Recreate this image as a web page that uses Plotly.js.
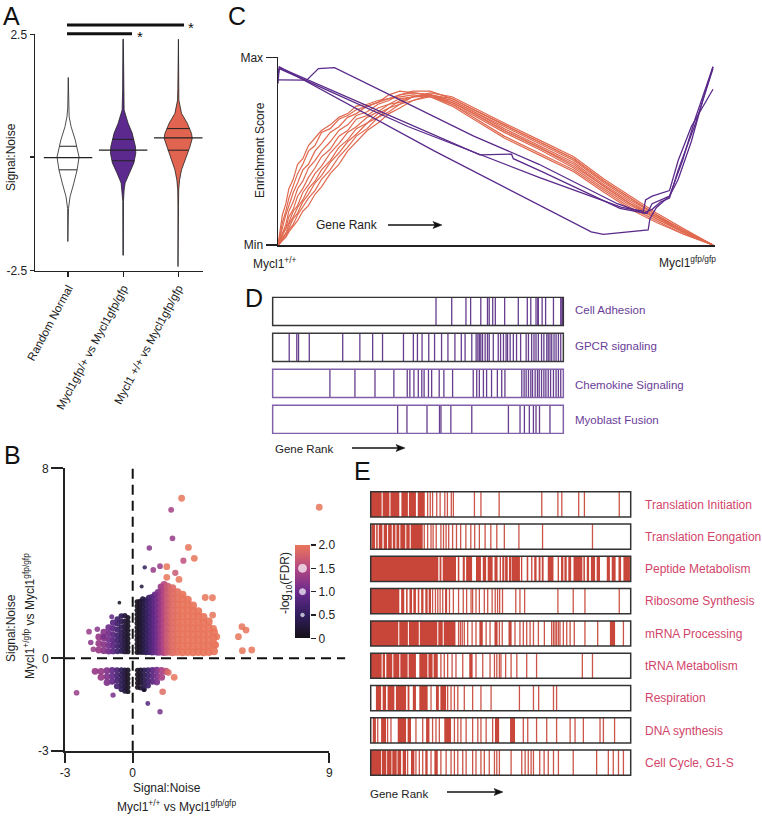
<!DOCTYPE html>
<html><head><meta charset="utf-8">
<script src="https://cdn.plot.ly/plotly-3.0.1.min.js"></script>
<style>html,body{margin:0;padding:0;background:#fff}#chart{width:762px;height:816px}</style>
</head><body><div id="chart"></div>
<script>
// ================= DATA =================
// ---- Panel A: violin profiles (Signal:Noise level, half width in category units) ----
const aCategories = ['Random Normal', 'Mycl1gfp/+ vs Mycl1gfp/gfp', 'Mycl1 +/+ vs Mycl1gfp/gfp'];
const rnLevels = [1.62, 1.0, 0.82, 0.62, 0.35, 0.0, -0.26, -0.53, -0.81, -1.05, -1.72];
const rnHalfW  = [0.004, 0.006, 0.02, 0.055, 0.13, 0.2, 0.165, 0.105, 0.036, 0.008, 0.004];
const hetLevels = [2.4, 1.36, 0.96, 0.69, 0.49, 0.21, 0.08, -0.12, -0.33, -0.53, -0.67, -0.9, -2.0];
const hetHalfW  = [0.004, 0.009, 0.018, 0.09, 0.164, 0.224, 0.23, 0.195, 0.11, 0.036, 0.018, 0.006, 0.004];
const wtLevels = [2.4, 1.4, 1.16, 0.89, 0.69, 0.48, 0.38, 0.21, 0.01, -0.26, -0.47, -0.67, -1.0, -2.23];
const wtHalfW  = [0.004, 0.007, 0.012, 0.06, 0.164, 0.242, 0.255, 0.213, 0.145, 0.06, 0.024, 0.009, 0.005, 0.004];
const aMedians = [-0.01, 0.14, 0.39];
const aQ1 = [-0.26, -0.075, 0.14];
const aQ3 = [0.22, 0.36, 0.58];

// ---- Panel B: scatter columns [x, -log10 FDR, [y values]] ----
const bURCols = [
 [0.2, 0.05, [0.25,0.43,0.6,0.78,0.95,1.13,1.3,1.48,1.66,1.84,2.02,2.2,2.38]],
 [0.33, 0.12, [0.26,0.44,0.61,0.79,0.96,1.14,1.32,1.49,1.67,1.85,2.03,2.21,2.4]],
 [0.46, 0.25, [0.25,0.43,0.6,0.78,0.96,1.13,1.31,1.49,1.66,1.84,2.02,2.2,2.38,2.5]],
 [0.6, 0.42, [0.25,0.45,0.65,0.85,1.05,1.25,1.45,1.65,1.85,2.05,2.25,2.45]],
 [0.74, 0.6, [0.26,0.47,0.68,0.89,1.1,1.31,1.52,1.73,1.94,2.15,2.36,2.55]],
 [0.88, 0.78, [0.25,0.46,0.67,0.88,1.09,1.3,1.51,1.72,1.93,2.14,2.35,2.58]],
 [1.02, 0.95, [0.26,0.48,0.7,0.92,1.14,1.36,1.58,1.8,2.02,2.24,2.46,2.68]],
 [1.16, 1.12, [0.25,0.48,0.71,0.94,1.17,1.4,1.63,1.86,2.09,2.32,2.55,2.78]],
 [1.3, 1.3, [0.26,0.49,0.72,0.95,1.18,1.41,1.64,1.87,2.1,2.33,2.56,2.8,3.0]],
 [1.44, 1.5, [0.25,0.49,0.73,0.97,1.21,1.45,1.69,1.93,2.17,2.41,2.65,2.9,3.1]],
 [1.6, 1.72, [0.27,0.52,0.77,1.02,1.27,1.52,1.77,2.02,2.27,2.52,2.77,3.02]],
 [1.82, 1.88, [0.26,0.51,0.76,1.01,1.26,1.51,1.76,2.01,2.26,2.51,2.76,2.95]],
 [2.05, 1.96, [0.27,0.52,0.77,1.02,1.27,1.52,1.77,2.02,2.27,2.52,2.78]],
 [2.28, 2.0, [0.26,0.51,0.76,1.01,1.26,1.51,1.76,2.01,2.26,2.5,2.68]],
 [2.52, 2.0, [0.27,0.52,0.77,1.02,1.27,1.52,1.77,2.02,2.27,2.47]],
 [2.76, 2.0, [0.26,0.51,0.76,1.01,1.26,1.51,1.76,2.0,2.22]],
 [3.0, 2.0, [0.27,0.52,0.77,1.02,1.27,1.52,1.78,1.98]],
 [3.24, 2.0, [0.26,0.51,0.76,1.01,1.26,1.5,1.74]],
 [3.48, 2.0, [0.27,0.52,0.77,1.02,1.3,1.55]],
 [3.72, 2.0, [0.3,0.58,0.88,1.1]]
];
const bULCols = [
 [-0.22, 0.08, [0.28,0.46,0.64,0.82,1.0,1.18,1.36,1.54,1.72]],
 [-0.36, 0.2, [0.28,0.46,0.64,0.82,1.0,1.18,1.36,1.56,1.8]],
 [-0.52, 0.4, [0.3,0.5,0.7,0.9,1.1,1.32,1.55,1.78]],
 [-0.7, 0.62, [0.3,0.52,0.74,0.96,1.2,1.45,1.65]],
 [-0.9, 0.85, [0.3,0.53,0.76,1.0,1.25,1.5]],
 [-1.1, 1.05, [0.3,0.55,0.8,1.05,1.3]],
 [-1.32, 1.2, [0.32,0.58,0.85,1.1]],
 [-1.55, 1.3, [0.35,0.62,0.9]]
];
const bLLCols = [
 [-0.22, 0.08, [-0.5,-0.68,-0.86,-1.04,-1.22,-1.4]],
 [-0.36, 0.2, [-0.5,-0.68,-0.86,-1.04,-1.22,-1.38]],
 [-0.52, 0.42, [-0.5,-0.7,-0.9,-1.1,-1.3]],
 [-0.72, 0.7, [-0.5,-0.72,-0.94,-1.18]],
 [-0.94, 0.95, [-0.5,-0.74,-0.98]],
 [-1.18, 1.15, [-0.52,-0.78,-1.02]],
 [-1.45, 1.3, [-0.55,-0.8]],
 [-1.72, 1.3, [-0.55]]
];
const bLRCols = [
 [0.22, 0.05, [-0.5,-0.68,-0.86,-1.04,-1.22]],
 [0.36, 0.15, [-0.5,-0.68,-0.86,-1.04,-1.24]],
 [0.52, 0.35, [-0.5,-0.7,-0.9,-1.1,-1.3]],
 [0.7, 0.6, [-0.5,-0.72,-0.94,-1.15]],
 [0.9, 0.85, [-0.5,-0.74,-0.98]],
 [1.1, 1.1, [-0.5,-0.75,-1.0]],
 [1.32, 1.4, [-0.52,-0.8]],
 [1.52, 1.6, [-0.55]]
];
// isolated genes [x, y, -log10 FDR]
const bOutliers = [
 [2.24,6.74,2.0],[1.76,6.25,1.4],[1.82,5.05,1.3],[2.55,4.67,2.0],[0.76,4.64,1.2],[2.32,4.11,1.6],
 [2.82,4.21,2.0],[0.55,3.83,0.5],[0.94,3.72,1.3],[1.25,3.88,1.3],[1.56,3.86,2.0],[1.95,3.6,1.7],
 [2.12,3.32,2.0],[1.56,3.41,2.0],[0.41,3.02,0.3],[3.32,2.56,2.0],[3.65,2.55,2.0],[5.0,1.33,2.0],
 [5.19,1.19,2.0],[4.84,0.91,2.0],[5.02,0.32,2.0],[5.45,0.35,2.0],[3.66,1.82,2.0],[3.7,1.26,2.0],
 [3.85,0.91,2.0],[3.8,0.56,2.0],[8.54,6.36,2.0],
 [-2.0,1.12,1.3],[-1.62,1.22,1.2],[-1.92,0.67,1.2],[-1.8,0.38,1.3],[-1.34,0.91,1.1],[-0.96,1.75,0.9],[-0.61,2.34,0.1],
 [-2.57,-1.45,1.3],[-0.9,-1.55,1.1],
 [1.63,-0.6,1.9],[1.9,-0.8,2.0],[1.37,-1.41,1.9],[0.69,-1.9,0.8],[1.25,-2.25,1.1],[0.52,-1.34,0.1]
];
const cbLevels = [0, 0.25, 0.5, 0.75, 1, 1.25, 1.5, 1.75, 2];
const cbDots = [1.5, 1.0, 0.5];

// ---- Panel C: running enrichment score (gene rank fraction, 0=Min..1=Max) ----
const cRank = [0,.005,.01,.018,.025,.035,.045,.057,.07,.085,.1,.12,.14,.16,.18,.205,.23,.255,.28,.31,.35,.4,.45,.52,.6,.68,.75,.81,.87,.93,1];
const cUp1 = [0,.08,.16,.22,.3,.35,.43,.46,.53,.57,.61,.64,.68,.7,.74,.75,.77,.78,.79,.8,.79,.75,.69,.6,.51,.41,.3,.21,.14,.07,0];
const cUp2 = [0,.05,.12,.18,.25,.31,.38,.43,.5,.53,.6,.62,.67,.69,.72,.74,.76,.78,.8,.81,.8,.76,.7,.61,.52,.42,.31,.22,.15,.07,0];
const cUp3 = [0,.04,.09,.16,.21,.28,.33,.4,.43,.5,.54,.6,.63,.68,.7,.74,.76,.8,.82,.81,.8,.77,.71,.62,.53,.44,.32,.23,.15,.08,0];
const cUp4 = [0,.03,.07,.11,.18,.23,.3,.34,.41,.45,.5,.55,.61,.64,.69,.71,.75,.77,.8,.82,.82,.78,.72,.64,.55,.46,.34,.25,.16,.08,0];
const cUp5 = [0,.02,.06,.09,.15,.19,.26,.3,.36,.41,.47,.51,.58,.61,.67,.69,.73,.75,.78,.79,.8,.75,.68,.58,.49,.4,.29,.2,.13,.06,0];
const cUp6 = [0,.02,.05,.09,.12,.18,.21,.28,.32,.38,.42,.49,.54,.6,.63,.68,.71,.75,.76,.79,.79,.74,.67,.57,.48,.39,.28,.19,.12,.06,0];
const cUp7 = [0,.015,.04,.06,.11,.15,.2,.24,.3,.34,.4,.45,.52,.56,.62,.65,.7,.73,.77,.79,.8,.77,.71,.63,.54,.45,.33,.24,.16,.08,0];
const cUp8 = [0,.01,.03,.06,.09,.14,.17,.23,.27,.33,.37,.44,.49,.55,.59,.65,.68,.73,.75,.79,.81,.79,.73,.65,.56,.47,.35,.26,.17,.09,0];
const cUp9 = [0,.01,.03,.05,.08,.11,.16,.2,.25,.29,.35,.4,.47,.52,.58,.62,.68,.71,.75,.77,.8,.78,.72,.64,.55,.46,.34,.25,.16,.08,0];
const cUp10 = [0,.01,.02,.04,.07,.1,.13,.18,.21,.27,.31,.38,.43,.5,.55,.61,.65,.7,.73,.77,.79,.76,.7,.61,.52,.43,.31,.22,.14,.07,0];
const cDn1X = [0,0.003,0.36,0.72,0.748,0.851,0.855,0.87,0.9,0.93,0.96,1.0];
const cDn1Y = [0.86,0.95,0.5,0.07,0.057,0.08,0.14,0.2,0.26,0.45,0.68,0.95];
const cDn2X = [0,0.004,0.464,0.537,0.541,0.6,0.608,0.786,0.848,0.86,0.9,0.92,0.95,0.98,1.0];
const cDn2Y = [0.92,0.945,0.48,0.484,0.46,0.4,0.39,0.195,0.168,0.22,0.26,0.35,0.55,0.8,0.95];
const cDn3X = [0,0.066,0.093,0.13,0.45,0.6,0.78,0.84,0.86,0.88,0.9,0.92,0.96,1.0];
const cDn3Y = [0.88,0.878,0.94,0.945,0.58,0.43,0.22,0.17,0.19,0.23,0.25,0.4,0.65,0.94];
const cDn4X = [0,0.003,0.3,0.6,0.79,0.84,0.845,0.86,0.9,0.92,0.95,1.0];
const cDn4Y = [0.9,0.94,0.63,0.36,0.2,0.18,0.24,0.26,0.29,0.45,0.63,0.83];

// ---- Panel D: hit positions (gene rank fraction) ----
const dSets = ['Cell Adhesion','GPCR signaling','Chemokine Signaling','Myoblast Fusion'];
const dCellAdhesion = [0.562,0.616,0.665,0.681,0.716,0.739,0.745,0.757,0.766,0.798,0.845,0.876,0.888,0.906,0.912,0.914,0.927,0.939,0.966,0.991,0.995,0.997];
const dGPCR = [0.057,0.083,0.089,0.126,0.241,0.3,0.344,0.378,0.45,0.484,0.498,0.514,0.537,0.557,0.581,0.603,0.627,0.649,0.662,0.685,0.7,0.706,0.711,0.716,0.722,0.731,0.739,0.745,0.759,0.776,0.784,0.794,0.803,0.808,0.817,0.828,0.839,0.853,0.872,0.88,0.891,0.899,0.906,0.914,0.925,0.933,0.943,0.948,0.954,0.96,0.968,0.975,0.983,0.991];
const dChemokine = [0.197,0.283,0.352,0.417,0.463,0.472,0.486,0.501,0.513,0.521,0.536,0.547,0.573,0.589,0.619,0.69,0.702,0.711,0.725,0.736,0.753,0.773,0.788,0.799,0.857,0.865,0.872,0.88,0.888,0.894,0.903,0.911,0.917,0.925,0.933,0.94,0.948,0.956,0.966,0.975,0.983,0.991];
const dMyoblast = [0.43,0.462,0.531,0.574,0.579,0.613,0.685,0.811,0.851,0.866,0.883,0.897,0.906,0.918,0.954];

// ---- Panel E: hit positions; dense runs given as [start, end] ----
const eSets = ['Translation Initiation','Translation Eongation','Peptide Metabolism','Ribosome Synthesis','mRNA Processing','tRNA Metabolism','Respiration','DNA synthesis','Cell Cycle, G1-S'];
const eInitBlocks = [[0,0.042],[0.046,0.072],[0.076,0.11],[0.118,0.143],[0.147,0.174],[0.181,0.208]];
const eInitLines = [0.219,0.229,0.238,0.254,0.267,0.285,0.295,0.31,0.318,0.399,0.424,0.494,0.658,0.72,0.735,0.8,0.822,0.956];
const eElongBlocks = [[0.003,0.017],[0.021,0.027],[0.031,0.045],[0.05,0.063],[0.067,0.081],[0.085,0.095],[0.099,0.11],[0.114,0.133],[0.137,0.15],[0.154,0.2]];
const eElongLines = [0.206,0.219,0.232,0.24,0.252,0.27,0.28,0.29,0.3,0.315,0.33,0.346,0.366,0.385,0.4,0.418,0.44,0.462,0.485,0.514,0.57,0.661,0.853];
const ePeptideBlocks = [[0,0.26],[0.265,0.272],[0.277,0.328],[0.335,0.341],[0.354,0.362],[0.367,0.39],[0.405,0.424],[0.431,0.444],[0.45,0.469],[0.476,0.488],[0.496,0.501],[0.506,0.514],[0.517,0.527],[0.532,0.54],[0.542,0.574],[0.578,0.583],[0.6,0.606],[0.617,0.622],[0.629,0.638],[0.646,0.653],[0.658,0.665],[0.681,0.703],[0.719,0.724],[0.732,0.741],[0.745,0.754],[0.76,0.771],[0.78,0.814],[0.818,0.824],[0.831,0.84],[0.847,0.863],[0.869,0.882],[0.908,0.92],[0.927,0.942],[0.953,0.963],[0.972,0.997]];
const ePeptideLines = [];
const eRiboBlocks = [[0,0.11],[0.117,0.129],[0.136,0.142],[0.149,0.159],[0.164,0.174],[0.181,0.187],[0.194,0.203],[0.21,0.219],[0.223,0.232],[0.286,0.294]];
const eRiboLines = [0.238,0.249,0.258,0.267,0.277,0.303,0.318,0.338,0.356,0.369,0.386,0.392,0.405,0.418,0.437,0.45,0.467,0.479,0.488,0.496,0.507,0.558,0.574,0.592,0.72,0.779,0.824,0.956];
const eMrnaBlocks = [[0,0.106],[0.11,0.143],[0.147,0.185],[0.189,0.256],[0.26,0.277],[0.281,0.326],[0.418,0.431],[0.476,0.488],[0.53,0.542],[0.92,0.94]];
const eMrnaLines = [0.338,0.345,0.352,0.36,0.373,0.39,0.405,0.444,0.459,0.495,0.506,0.555,0.574,0.587,0.6,0.613,0.626,0.645,0.668,0.696,0.703,0.709,0.715,0.722,0.728,0.741,0.754,0.767,0.783,0.824,0.873,0.972];
const eTrnaBlocks = [[0,0.042],[0.046,0.055],[0.06,0.083],[0.087,0.11],[0.114,0.142],[0.146,0.174],[0.187,0.218],[0.222,0.238],[0.242,0.258],[0.379,0.392]];
const eTrnaLines = [0.27,0.283,0.296,0.313,0.328,0.354,0.405,0.431,0.459,0.476,0.485,0.495,0.501,0.519,0.54,0.562,0.6,0.638,0.814,0.853];
const eRespBlocks = [[0.02,0.04],[0.046,0.059],[0.065,0.091],[0.097,0.136],[0.142,0.149],[0.162,0.174],[0.187,0.219],[0.251,0.262],[0.268,0.29]];
const eRespLines = [0.232,0.296,0.309,0.322,0.335,0.36,0.392,0.424,0.463,0.572,0.626,0.646,0.703,0.715];
const eDnaBlocks = [[0.008,0.02],[0.04,0.059],[0.104,0.136],[0.142,0.155],[0.213,0.226],[0.283,0.309],[0.478,0.494],[0.536,0.555]];
const eDnaLines = [0.027,0.065,0.078,0.174,0.2,0.238,0.251,0.264,0.322,0.335,0.347,0.367,0.392,0.412,0.424,0.444,0.469,0.587,0.604,0.638,0.677,0.715,0.767,0.786,0.818,0.882,0.895,0.938];
const eCycleBlocks = [[0,0.04],[0.043,0.06],[0.063,0.08],[0.083,0.1],[0.103,0.117],[0.123,0.136],[0.155,0.168],[0.21,0.219],[0.245,0.258]];
const eCycleLines = [0.142,0.174,0.187,0.2,0.232,0.27,0.29,0.309,0.322,0.335,0.354,0.367,0.392,0.405,0.424,0.437,0.456,0.476,0.485,0.495,0.54,0.581,0.594,0.606,0.617,0.626,0.65,0.667,0.683,0.703,0.722,0.779,0.869,0.914,0.933,0.953,0.972];

// ================= STYLE / HELPERS =================
const W = 762, H = 816;
const FONT = 'Liberation Sans, Arial, Helvetica, sans-serif';
const PURPLE = '#5c2a8e', CORAL = '#e06450', RED = '#c8473a', DLINE = '#5a2d86';
const MAGMA = [[0,'#141016'],[0.25,'#2f1d5c'],[0.5,'#68298c'],[0.75,'#b44683'],[1,'#e8755b']];
const traces = [];
const shapes = [];
const annotations = [];
function txt(text, px, py, o) {
  return Object.assign({text: text, x: px / W, y: 1 - py / H, xref: 'paper', yref: 'paper', showarrow: false,
    xanchor: 'center', yanchor: 'middle', font: {family: FONT, size: 12, color: '#222'}}, o || {});
}
function arrow(x0, x1, y, w) {
  const X = p => p / W, Y = p => 1 - p / H;
  shapes.push({type: 'line', xref: 'paper', yref: 'paper', x0: X(x0), x1: X(x1 - 6), y0: Y(y), y1: Y(y), line: {color: '#111', width: w}});
  shapes.push({type: 'path', xref: 'paper', yref: 'paper', fillcolor: '#111', line: {color: '#111', width: 0.5},
    path: 'M' + X(x1) + ',' + Y(y) + ' L' + X(x1 - 9) + ',' + Y(y - 3.5) + ' L' + X(x1 - 7) + ',' + Y(y) + ' L' + X(x1 - 9) + ',' + Y(y + 3.5) + ' Z'});
}
function interp(levels, hw, y) {
  for (let k = 0; k < levels.length - 1; k++) {
    if (y <= levels[k] && y >= levels[k + 1]) {
      const t = (levels[k] - y) / (levels[k] - levels[k + 1]);
      return hw[k] + t * (hw[k + 1] - hw[k]);
    }
  }
  return 0;
}

// ================= PANEL A =================
const aProfiles = [[rnLevels, rnHalfW, '#ffffff'], [hetLevels, hetHalfW, PURPLE], [wtLevels, wtHalfW, CORAL]];
aProfiles.forEach(([lv, hw, col], i) => {
  const xs = [], ys = [];
  lv.forEach((y, k) => { xs.push(i + hw[k]); ys.push(y); });
  for (let k = lv.length - 1; k >= 0; k--) { xs.push(i - hw[k]); ys.push(lv[k]); }
  xs.push(xs[0]); ys.push(ys[0]);
  traces.push({type: 'scatter', mode: 'lines', x: xs, y: ys, fill: 'toself', fillcolor: col,
    line: {color: '#222', width: 0.8}, xaxis: 'x', yaxis: 'y', hoverinfo: 'skip'});
  [aQ1[i], aQ3[i]].forEach(q => {
    const w = interp(lv, hw, q);
    traces.push({type: 'scatter', mode: 'lines', x: [i - w, i + w], y: [q, q], line: {color: '#222', width: 1},
      xaxis: 'x', yaxis: 'y', hoverinfo: 'skip'});
  });
  traces.push({type: 'scatter', mode: 'lines', x: [i - 0.44, i + 0.44], y: [aMedians[i], aMedians[i]],
    line: {color: '#222', width: 1.3}, xaxis: 'x', yaxis: 'y', hoverinfo: 'skip'});
});
shapes.push({type: 'line', xref: 'paper', yref: 'paper', x0: 67 / W, x1: 184 / W, y0: 1 - 25 / H, y1: 1 - 25 / H, line: {color: '#111', width: 3}});
shapes.push({type: 'line', xref: 'paper', yref: 'paper', x0: 67 / W, x1: 132 / W, y0: 1 - 33.7 / H, y1: 1 - 33.7 / H, line: {color: '#111', width: 3}});
annotations.push(txt('*', 191, 28, {font: {family: FONT, size: 15, color: '#111'}}));
annotations.push(txt('*', 140, 37, {font: {family: FONT, size: 15, color: '#111'}}));
annotations.push(txt('Signal:Noise', 11, 157, {textangle: -90}));

// ================= PANEL B =================
const bX = [], bY = [], bF = [];
[bLLCols, bLRCols, bULCols, bURCols].forEach(cols => cols.forEach(([x, f, ys]) => ys.forEach(y => { bX.push(x); bY.push(y); bF.push(f); })));
traces.push({type: 'scatter', mode: 'markers', x: bX, y: bY, xaxis: 'x2', yaxis: 'y2', hoverinfo: 'skip',
  marker: {color: bF, cmin: 0, cmax: 2, colorscale: MAGMA, size: bF.map(f => 5 + 1.5 * f), opacity: 0.92, line: {width: 0}}});
const oX = bOutliers.map(p => p[0]), oY = bOutliers.map(p => p[1]), oF = bOutliers.map(p => p[2]);
traces.push({type: 'scatter', mode: 'markers', x: oX, y: oY, xaxis: 'x2', yaxis: 'y2', hoverinfo: 'skip',
  marker: {color: oF, cmin: 0, cmax: 2, colorscale: MAGMA, size: oF.map(f => 3.6 + 1.6 * f), opacity: 0.85, line: {width: 0}}});
const bXRange = [-3.1, 9], bYRange = [-3.89, 8];
const bx0 = (0 - bXRange[0]) / (bXRange[1] - bXRange[0]);
const by0 = (0 - bYRange[0]) / (bYRange[1] - bYRange[0]);
shapes.push({type: 'line', xref: 'x2 domain', yref: 'y2 domain', x0: bx0, x1: bx0, y0: 0, y1: 1, line: {color: '#111', width: 2, dash: '10px,6px'}});
shapes.push({type: 'line', xref: 'x2 domain', yref: 'y2 domain', x0: 0, x1: 1.06, y0: by0, y1: by0, line: {color: '#111', width: 2, dash: '10px,6px'}});
// colour bar as heatmap + size key dots
traces.push({type: 'heatmap', z: cbLevels.map(v => [v, v]), x: [0, 1], y: cbLevels, xaxis: 'x3', yaxis: 'y3',
  colorscale: MAGMA, zmin: 0, zmax: 2, showscale: false, zsmooth: 'best', hoverinfo: 'skip'});
traces.push({type: 'scatter', mode: 'markers', x: cbDots.map(() => 0.5), y: cbDots, xaxis: 'x3', yaxis: 'y3',
  marker: {color: '#ffffff', size: [8, 6, 3.5]}, hoverinfo: 'skip'});
annotations.push(txt('Signal:Noise', 167, 788));
annotations.push(txt('Mycl1<sup>+/+</sup> vs Mycl1<sup>gfp/gfp</sup>', 176, 806));
annotations.push(txt('Signal:Noise', 11, 628, {textangle: -90}));
annotations.push(txt('Mycl1<sup>+/gfp</sup> vs Mycl1<sup>gfp/gfp</sup>', 29, 616, {textangle: -90}));
annotations.push(txt('-log<sub>10</sub>(FDR)', 286, 583, {textangle: -90}));

// ================= PANEL C =================
[cUp1, cUp2, cUp3, cUp4, cUp5, cUp6, cUp7, cUp8, cUp9, cUp10].forEach(ys => {
  traces.push({type: 'scatter', mode: 'lines', x: cRank, y: ys, xaxis: 'x4', yaxis: 'y4', cliponaxis: false,
    line: {color: '#e0694f', width: 1.2}, hoverinfo: 'skip'});
});
[[cDn1X, cDn1Y], [cDn2X, cDn2Y], [cDn3X, cDn3Y], [cDn4X, cDn4Y]].forEach(([xs, ys]) => {
  traces.push({type: 'scatter', mode: 'lines', x: xs, y: ys, xaxis: 'x4', yaxis: 'y4', cliponaxis: false,
    line: {color: '#5a2a8a', width: 1.3}, hoverinfo: 'skip'});
});
annotations.push(txt('Enrichment Score', 260, 150, {textangle: -90}));
annotations.push(txt('Gene Rank', 347, 225));
arrow(388, 442, 225, 1.5);
annotations.push(txt('Mycl1<sup>+/+</sup>', 275, 263));
annotations.push(txt('Mycl1<sup>gfp/gfp</sup>', 687, 262));

// ================= PANEL D / E barcodes =================
const HH = 0.39;
function barcode(rows, xa, ya, color, nRows) {
  const lx = [], ly = [], fx = [], fy = [];
  rows.forEach(([lines, blocks], k) => {
    const c = nRows - 1 - k;
    lines.forEach(r => { lx.push(r, r, null); ly.push(c - HH, c + HH, null); });
    blocks.forEach(([s, e]) => { fx.push(s, e, e, s, s, null); fy.push(c - HH, c - HH, c + HH, c + HH, c - HH, null); });
  });
  if (fx.length) traces.push({type: 'scatter', mode: 'lines', x: fx, y: fy, fill: 'toself', fillcolor: color,
    line: {width: 0, color: color}, xaxis: xa, yaxis: ya, hoverinfo: 'skip'});
  traces.push({type: 'scatter', mode: 'lines', x: lx, y: ly, line: {color: color, width: 1.3}, opacity: 0.92,
    xaxis: xa, yaxis: ya, hoverinfo: 'skip', connectgaps: false});
}
barcode([[dCellAdhesion, []], [dGPCR, []], [dChemokine, []], [dMyoblast, []]], 'x5', 'y5', DLINE, 4);
const dBorder = ['#333333', '#3a3a3a', '#8060a8', '#8060a8'];
dSets.forEach((name, k) => {
  const c = 3 - k;
  shapes.push({type: 'rect', xref: 'x5', yref: 'y5', x0: 0, x1: 1, y0: c - HH, y1: c + HH, layer: 'above',
    line: {color: dBorder[k], width: 1.5}, fillcolor: 'rgba(0,0,0,0)'});
});
const dLabelY = [310, 346.5, 384.5, 420];
dSets.forEach((name, k) => annotations.push(txt(name, 573, dLabelY[k], {xanchor: 'left', font: {family: FONT, size: 11.5, color: '#6a3d98'}})));
annotations.push(txt('Gene Rank', 273, 449, {xanchor: 'left', font: {family: FONT, size: 11.5, color: '#222'}}));
arrow(352, 405, 448, 1.3);

barcode([[eInitLines, eInitBlocks], [eElongLines, eElongBlocks], [ePeptideLines, ePeptideBlocks], [eRiboLines, eRiboBlocks],
  [eMrnaLines, eMrnaBlocks], [eTrnaLines, eTrnaBlocks], [eRespLines, eRespBlocks], [eDnaLines, eDnaBlocks], [eCycleLines, eCycleBlocks]],
  'x6', 'y6', RED, 9);
eSets.forEach((name, k) => {
  const c = 8 - k;
  shapes.push({type: 'rect', xref: 'x6', yref: 'y6', x0: 0, x1: 1, y0: c - HH, y1: c + HH, layer: 'above',
    line: {color: '#333333', width: 1.5}, fillcolor: 'rgba(0,0,0,0)'});
  annotations.push(txt(name, 643, 504.5 + 32.3 * k, {xanchor: 'left', font: {family: FONT, size: 12, color: '#d2456a'}}));
});
annotations.push(txt('Gene Rank', 368, 794, {xanchor: 'left', font: {family: FONT, size: 11.5, color: '#222'}}));
arrow(447, 503, 792, 1.3);

// panel letters
[['A', 11, 16], ['B', 12, 455], ['C', 237, 16], ['D', 254, 298], ['E', 362, 471]].forEach(([t, x, y]) =>
  annotations.push(txt(t, x, y, {font: {family: FONT, size: 25, color: '#111'}})));

// ================= LAYOUT =================
const axBase = {showgrid: false, zeroline: false, showline: true, linecolor: '#222', tickcolor: '#222', fixedrange: true,
  tickfont: {family: FONT, size: 12, color: '#222'}};
const hidden = {visible: false, showgrid: false, zeroline: false, fixedrange: true};
const layout = {
  width: W, height: H, margin: {l: 0, r: 0, t: 0, b: 0}, paper_bgcolor: '#ffffff', plot_bgcolor: 'rgba(0,0,0,0)',
  showlegend: false, font: {family: FONT, size: 12, color: '#222'},
  xaxis: Object.assign({}, axBase, {domain: [35 / W, 203 / W], range: [-0.6, 2.45], tickmode: 'array', tickvals: [0, 1, 2],
    ticktext: aCategories, tickangle: -62, ticks: 'outside', ticklen: 5, tickwidth: 1.2, linewidth: 1.5, anchor: 'y',
    tickfont: {family: FONT, size: 11.5, color: '#222'}}),
  yaxis: Object.assign({}, axBase, {domain: [1 - 270.5 / H, 1 - 34.3 / H], range: [-2.31, 2.5], tickmode: 'array',
    tickvals: [-2.31, 2.5], ticktext: ['-2.5', '2.5'], ticks: 'outside', ticklen: 4, tickwidth: 1.2, linewidth: 1.5, anchor: 'x',
    minor: {tickmode: 'array', tickvals: [0], ticks: 'outside', ticklen: 4, tickwidth: 1.2, tickcolor: '#222', showgrid: false}}),
  xaxis2: Object.assign({}, axBase, {domain: [65 / W, 329.3 / W], range: bXRange, tickmode: 'array', tickvals: [-3.1, 0, 9],
    ticktext: ['-3', '0', '9'], ticks: 'outside', ticklen: 10, tickwidth: 2, linewidth: 2, anchor: 'y2'}),
  yaxis2: Object.assign({}, axBase, {domain: [1 - 750.7 / H, 1 - 468.3 / H], range: bYRange, tickmode: 'array', tickvals: [-3.89, 0, 8],
    ticktext: ['-3', '0', '8'], ticks: 'outside', ticklen: 12, tickwidth: 2, linewidth: 2, anchor: 'x2'}),
  xaxis3: Object.assign({}, hidden, {domain: [295 / W, 310 / W], range: [-0.5, 1.5], anchor: 'y3'}),
  yaxis3: {domain: [1 - 638.3 / H, 1 - 545 / H], range: [0, 2], side: 'right', anchor: 'x3', showgrid: false, zeroline: false,
    showline: false, ticks: 'outside', ticklen: 5, tickwidth: 1.2, tickcolor: '#222', tickmode: 'array', tickvals: [0, 0.5, 1, 1.5, 2],
    ticktext: ['0', '0.5', '1.0', '1.5', '2.0'], tickfont: {family: FONT, size: 12, color: '#222'}, fixedrange: true},
  xaxis4: Object.assign({}, axBase, {domain: [278 / W, 715 / W], range: [0, 1.0046], ticks: '', showticklabels: false, linewidth: 1.5, anchor: 'y4'}),
  yaxis4: Object.assign({}, axBase, {domain: [1 - 245 / H, 1 - 57.3 / H], range: [0, 1], tickmode: 'array', tickvals: [0, 1],
    ticktext: ['Min', 'Max'], ticks: 'outside', ticklen: 11, tickwidth: 1.5, linewidth: 1.5, anchor: 'x4'}),
  xaxis5: Object.assign({}, hidden, {domain: [271.2 / W, 564.8 / W], range: [-0.005, 1.005], anchor: 'y5'}),
  yaxis5: Object.assign({}, hidden, {domain: [1 - 434.1 / H, 1 - 296.6 / H], range: [-0.41, 3.41], anchor: 'x5'}),
  xaxis6: Object.assign({}, hidden, {domain: [369.4 / W, 632.0 / W], range: [-0.005, 1.005], anchor: 'y6'}),
  yaxis6: Object.assign({}, hidden, {domain: [1 - 775.9 / H, 1 - 491.05 / H], range: [-0.41, 8.41], anchor: 'x6'}),
  shapes: shapes,
  annotations: annotations
};
Plotly.newPlot('chart', traces, layout, {staticPlot: true, displayModeBar: false});
</script>
</body></html>
